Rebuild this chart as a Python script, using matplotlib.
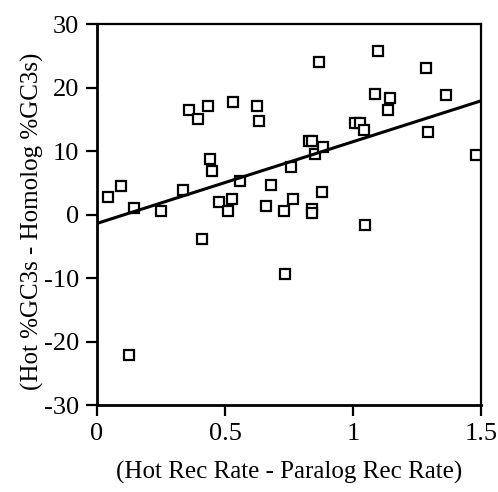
import numpy as np
import matplotlib
matplotlib.use("Agg")
import matplotlib.pyplot as plt

# ----------------------------
# Data
# ----------------------------
rec_diff = [0.043, 0.094, 0.145, 0.25, 0.125, 0.336, 0.36, 0.395, 0.434, 0.44,
            0.45, 0.477, 0.51, 0.527, 0.53, 0.56, 0.41, 0.625, 0.633, 0.66,
            0.68, 0.73, 0.734, 0.758, 0.766, 0.83, 0.84, 0.85, 0.84, 0.84,
            0.867, 0.883, 0.88, 1.047, 1.008, 1.027, 1.043, 1.086, 1.098, 1.137,
            1.145, 1.285, 1.293, 1.363, 1.48]
gc3_diff = [2.7, 4.5, 1.1, 0.5, -22.1, 3.8, 16.5, 15.1, 17.1, 8.8,
            6.8, 2.0, 0.6, 2.4, 17.7, 5.2, -3.9, 17.1, 14.8, 1.4,
            4.6, 0.6, -9.3, 7.5, 2.4, 11.6, 11.6, 9.6, 0.9, 0.2,
            24.0, 10.7, 3.6, -1.6, 14.4, 14.4, 13.3, 19.0, 25.7, 16.5,
            18.4, 23.1, 13.0, 18.8, 9.3]

# regression line end points
fit_x = [0.0, 1.5]
fit_y = [-1.4, 17.9]

xticks = [0, 0.5, 1, 1.5]
xtick_labels = ["0", "0.5", "1", "1.5"]
yticks = [-30, -20, -10, 0, 10, 20, 30]

# ----------------------------
# Plot
# ----------------------------
plt.rcParams["font.family"] = ["Liberation Serif", "DejaVu Serif"]
plt.rcParams["axes.unicode_minus"] = False

fig = plt.figure(figsize=(4.98, 4.92), dpi=100)
ax = fig.add_axes([0.1948, 0.1768, 0.7711, 0.7744])

ax.plot(rec_diff, gc3_diff, linestyle="none", marker="s", markersize=7,
        markerfacecolor="white", markeredgecolor="black", markeredgewidth=1.6)
ax.plot(fit_x, fit_y, color="black", linewidth=2.2)

ax.set_xlim(0, 1.5)
ax.set_ylim(-30, 30)
ax.set_xticks(xticks)
ax.set_xticklabels(xtick_labels)
ax.set_yticks(yticks)

ax.tick_params(axis="both", direction="out", length=8, width=1.6,
               labelsize=19, colors="black", pad=5)
for side in ["left", "bottom"]:
    ax.spines[side].set_linewidth(2.0)
for side in ["top", "right"]:
    ax.spines[side].set_linewidth(1.6)

fig.text(0.58, 0.04, "(Hot Rec Rate - Paralog Rec Rate)", fontsize=18,
         ha="center", va="center")
fig.text(0.065, 0.55, "(Hot %GC3s - Homolog %GC3s)", fontsize=18,
         ha="center", va="center", rotation=90)

fig.savefig("out.png", dpi=100)
